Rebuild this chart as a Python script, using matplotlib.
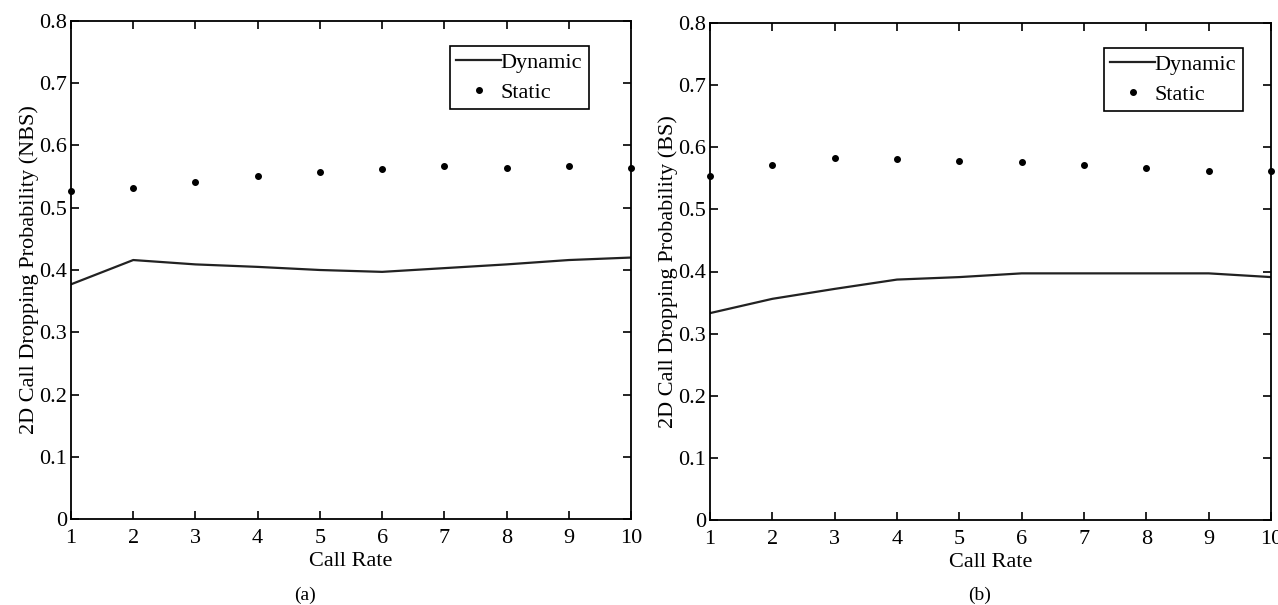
import matplotlib.pyplot as plt
import numpy as np

plt.rcParams['font.family'] = ['Liberation Serif', 'DejaVu Serif']

call_rate = [1, 2, 3, 4, 5, 6, 7, 8, 9, 10]

# (a) NBS
nbs_dynamic = [0.377, 0.416, 0.409, 0.405, 0.400, 0.397, 0.403, 0.409, 0.416, 0.420]
nbs_static = [0.527, 0.532, 0.542, 0.551, 0.557, 0.562, 0.567, 0.564, 0.567, 0.564]

# (b) BS
bs_dynamic = [0.333, 0.356, 0.372, 0.387, 0.391, 0.397, 0.397, 0.397, 0.397, 0.391]
bs_static = [0.553, 0.571, 0.582, 0.581, 0.578, 0.577, 0.571, 0.567, 0.562, 0.561]

W, H = 1278, 605
panels = [
    (nbs_dynamic, nbs_static, '2D Call Dropping Probability (NBS)', '(a)',
     (71, 21, 631, 519), 305, 0.98),
    (bs_dynamic, bs_static, '2D Call Dropping Probability (BS)', '(b)',
     (710, 23, 1271, 520), 980, 1.005),
]

fig = plt.figure(figsize=(W / 100, H / 100), dpi=100)

for dyn, sta, ylabel, tag, (x0, y0, x1, y1), tag_x, leg_x in panels:
    ax = fig.add_axes([x0 / W, 1 - y1 / H, (x1 - x0) / W, (y1 - y0) / H])
    ax.plot(call_rate, dyn, color='#222222', lw=1.6, label='Dynamic')
    ax.plot(call_rate, sta, ls='none', marker='o', ms=4, color='black',
            label='Static', clip_on=False)
    ax.set_xlim(1, 10)
    ax.set_ylim(0, 0.8)
    ax.set_xticks(call_rate)
    ax.set_yticks(np.arange(0, 0.81, 0.1))
    ax.set_yticklabels(['0', '0.1', '0.2', '0.3', '0.4', '0.5', '0.6', '0.7', '0.8'])
    ax.tick_params(direction='in', top=True, right=True, length=6, width=1.2,
                   labelsize=16)
    ax.tick_params(axis='y', pad=3)
    ax.tick_params(axis='x', pad=7)
    for s in ax.spines.values():
        s.set_linewidth(1.3)
    ax.set_xlabel('Call Rate', fontsize=16, labelpad=3)
    ax.set_ylabel(ylabel, fontsize=16, labelpad=0)
    leg = ax.legend(loc='upper right', bbox_to_anchor=(leg_x - 0.055, 0.95),
                    fontsize=16, handlelength=2.0, handletextpad=0.0,
                    borderpad=0.3, labelspacing=0.4, borderaxespad=0,
                    fancybox=False, framealpha=1, edgecolor='black')
    leg.get_frame().set_linewidth(1.2)
    fig.text(tag_x / W, 1 - 595 / H, tag, ha='center', va='center', fontsize=14)

fig.savefig('out.png', dpi=100)
